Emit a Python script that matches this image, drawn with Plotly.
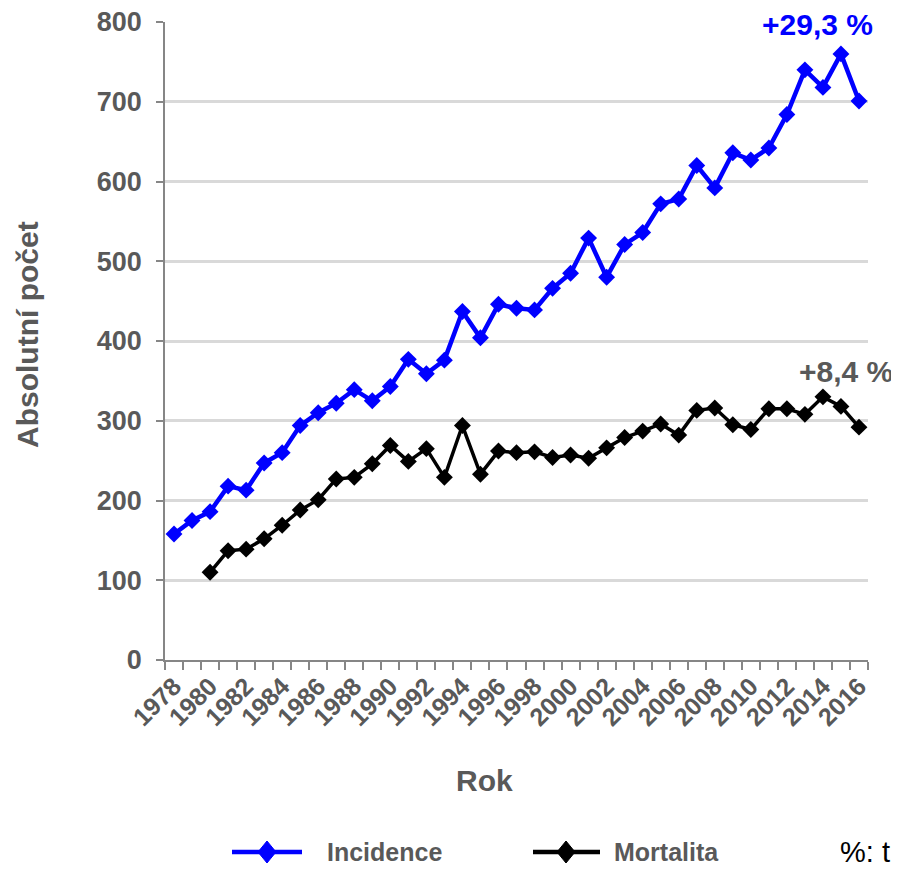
import plotly.graph_objects as go

years = list(range(1978, 2017))
incidence = [158, 175, 186, 218, 213, 247, 260, 294, 310, 322, 339, 325, 343, 377, 359, 376,
             437, 404, 446, 441, 439, 466, 485, 529, 480, 521, 536, 572, 578, 620, 592, 636,
             627, 642, 684, 740, 718, 760, 701]
mort_years = list(range(1980, 2017))
mortalita = [110, 137, 139, 152, 169, 188, 201, 227, 229, 246, 269, 249, 265, 229, 294, 233,
             262, 260, 261, 254, 257, 253, 266, 279, 287, 296, 282, 313, 316, 295, 289, 315,
             315, 308, 330, 318, 292]
tick_years = list(range(1978, 2017, 2))
y_ticks = list(range(0, 801, 100))

GRAY = "#595959"
FONT = "Liberation Sans, Arial, sans-serif"

fig = go.Figure()
fig.add_trace(go.Scatter(x=years, y=incidence, mode="lines+markers", name="Incidence",
                         line=dict(color="#0000FF", width=4.5),
                         marker=dict(symbol="diamond", size=13, color="#0000FF")))
fig.add_trace(go.Scatter(x=mort_years, y=mortalita, mode="lines+markers", name="Mortalita",
                         line=dict(color="#000000", width=3.5),
                         marker=dict(symbol="diamond", size=13, color="#000000")))

# page has an 8px body margin; plot area should land at x 165..868, y 22..660
L, R, T, B = 157, 39, 14, 219
fig.update_layout(
    width=899, height=871,
    margin=dict(l=L, r=R, t=T, b=B, autoexpand=False),
    paper_bgcolor="white", plot_bgcolor="white",
    showlegend=False,
    font=dict(family=FONT, color=GRAY),
)
fig.update_xaxes(
    automargin=False,
    range=[1977.5, 2016.5], tickmode="array", tickvals=tick_years,
    ticktext=[str(y) for y in tick_years], tickangle=-45,
    tickfont=dict(family=FONT, size=25, color=GRAY, weight="bold"),
    ticks="", showgrid=False, zeroline=False,
    showline=True, linecolor="#868686", linewidth=1.5,
    minor=dict(tick0=1977.5, dtick=1, ticks="outside", ticklen=8, tickcolor="#868686",
               tickwidth=1.5, showgrid=False),
)
fig.update_yaxes(
    automargin=False,
    range=[0, 800], tickmode="array", tickvals=y_ticks,
    tickfont=dict(family=FONT, size=27, color=GRAY, weight="bold"),
    ticklabeloverflow="allow",
    ticks="outside", ticklen=7, tickcolor="#868686", tickwidth=1.5,
    ticklabelstandoff=9,
    showgrid=True, gridcolor="#D9D9D9", gridwidth=2.5,
    zeroline=False, showline=True, linecolor="#868686", linewidth=1.5,
)

PW = 899 - L - R
PH = 871 - T - B


def px(x):
    return (x - 8 - L) / PW


def py(y):
    return (871 - B - (y - 8)) / PH


ann = []


def text(t, x, y, size, color, angle=0, xanchor="center"):
    ann.append(dict(text=t, x=px(x), y=py(y), xref="paper", yref="paper",
                    xanchor=xanchor, yanchor="middle", textangle=angle, showarrow=False,
                    font=dict(size=size, color=color, family=FONT)))


text("<b>Absolutní počet</b>", 28, 335, 30, GRAY, angle=-90)
text("<b>Rok</b>", 484, 780, 30, GRAY)
text("<b>+29,3 %</b>", 817, 25, 30, "#0000FF")
text("<b>+8,4 %</b>", 846, 371, 30, GRAY)

# manual legend
leg_y = 852
shapes = []
for (x0, x1, xd, xt, col, name) in [(232, 302, 267, 325, "#0000FF", "Incidence"),
                                     (533, 600, 566, 612, "#000000", "Mortalita")]:
    shapes.append(dict(type="line", xref="paper", yref="paper", x0=px(x0), x1=px(x1),
                       y0=py(leg_y), y1=py(leg_y), line=dict(color=col, width=4.5)))
    shapes.append(dict(type="path", xref="paper", yref="paper",
                       xsizemode="pixel", ysizemode="pixel",
                       xanchor=px(xd), yanchor=py(leg_y),
                       path="M -9 0 L 0 11 L 9 0 L 0 -11 Z",
                       fillcolor=col, line=dict(color=col, width=1)))
    text("<b>" + name + "</b>", xt, leg_y, 25, GRAY, xanchor="left")
text("%: t", 838, leg_y, 29, "#000000", xanchor="left")

fig.update_layout(annotations=ann, shapes=shapes)
fig.write_html("out.html")
